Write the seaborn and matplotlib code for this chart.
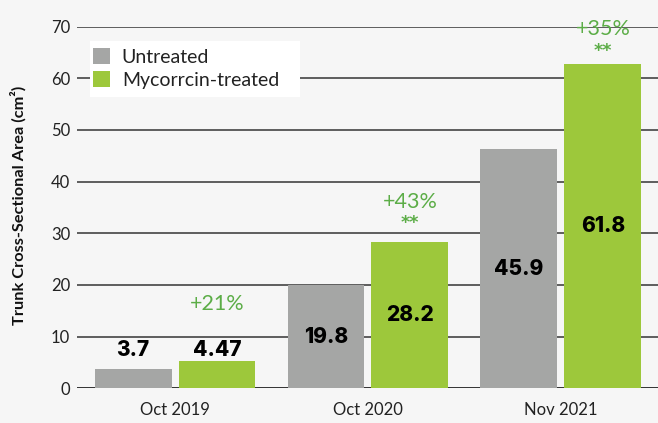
import numpy as np
import matplotlib
matplotlib.use("Agg")
import matplotlib.pyplot as plt
import seaborn as sns
import pandas as pd
from matplotlib.patches import Rectangle

# data
dates = ["Oct 2019", "Oct 2020", "Nov 2021"]
groups = ["Untreated", "Mycorrcin-treated"]
untreated = [3.7, 20.0, 46.3]
treated = [5.2, 28.3, 62.7]
untreated_labels = ["3.7", "19.8", "45.9"]
treated_labels = ["4.47", "28.2", "61.8"]
increase = ["+21%", "+43%", "+35%"]
signif = ["", "**", "**"]
yticks = [0, 10, 20, 30, 40, 50, 60, 70]

BG = "#f6f6f6"
GRAY = "#a5a6a5"
GREEN = "#9dc83b"
TXT_GREEN = "#5cad47"

sns.set_theme(style="white")
plt.rcParams["font.family"] = ["Lato", "DejaVu Sans"]

df = pd.DataFrame({
    "date": dates * 2,
    "group": [groups[0]] * 3 + [groups[1]] * 3,
    "area": untreated + treated,
})

W, H = 658, 423
fig = plt.figure(figsize=(6.58, 4.23), dpi=100, facecolor=BG)
ax = fig.add_axes([77 / W, 1 - 388.3 / H, 1 - 77 / W, (388.3 - 26.6) / H])
ax.set_facecolor(BG)

sns.barplot(df, x="date", y="area", hue="group", hue_order=groups,
            palette=[GRAY, GREEN], width=0.870, gap=0.083, saturation=1,
            linewidth=0, ax=ax, legend=True)

ax.set_xlim(-0.508, 2.503)
ax.set_ylim(0, 70)
ax.set_yticks(yticks)
ax.set_yticklabels([str(t) for t in yticks], fontsize=12, color="#222222")
for t in yticks:
    ax.axhline(t, color="#111111" if t == 0 else "#444444", lw=1.2, zorder=0.5)
ax.tick_params(axis="y", length=0, pad=5)
ax.tick_params(axis="x", length=0, pad=10, labelsize=12, labelcolor="#222222")
ax.set_xlabel("")
ax.set_ylabel("")
for s in ax.spines.values():
    s.set_visible(False)

fig.text(18 / W, 1 - 205 / H, "Trunk Cross-Sectional Area (cm²)", rotation=90,
         ha="center", va="center", fontsize=11.8, fontweight="bold", color="#111111")

# value labels
for hi, labels in enumerate([untreated_labels, treated_labels]):
    for ci, bar in enumerate(ax.containers[hi]):
        xc = bar.get_x() + bar.get_width() / 2
        h = bar.get_height()
        y = 7.4 if h < 10 else h / 2
        ax.text(xc, y, labels[ci], ha="center", va="center", fontsize=15,
                fontweight="heavy", family=["Inter", "DejaVu Sans"], color="black")

# increase + significance
pct_y = [16.3, 36.0, 69.5]
star_y = [0, 32.0, 65.2]
for ci, bar in enumerate(ax.containers[1]):
    xc = bar.get_x() + bar.get_width() / 2
    ax.text(xc, pct_y[ci], increase[ci], ha="center", va="center", fontsize=15.5,
            color=TXT_GREEN, clip_on=False)
    if signif[ci]:
        ax.text(xc, star_y[ci], signif[ci], ha="center", va="center", fontsize=12.5,
                fontweight="bold", family=["DejaVu Sans"], color=TXT_GREEN, clip_on=False)

# legend on a white box
ax.add_patch(Rectangle((90 / W, 1 - 97 / H), 210 / W, 56 / H,
                       transform=fig.transFigure, facecolor="white",
                       edgecolor="none", zorder=4, clip_on=False))
leg = ax.legend(loc="upper left", bbox_to_anchor=(93 / W, 1 - 48 / H),
                bbox_transform=fig.transFigure, borderaxespad=0, frameon=False,
                fontsize=14, handlelength=0.88, handleheight=0.88,
                handletextpad=0.6, labelspacing=0.3, borderpad=0)
leg.set_zorder(5)
for t in leg.get_texts():
    t.set_color("#222222")

fig.savefig("out.png", dpi=100, facecolor=BG)
